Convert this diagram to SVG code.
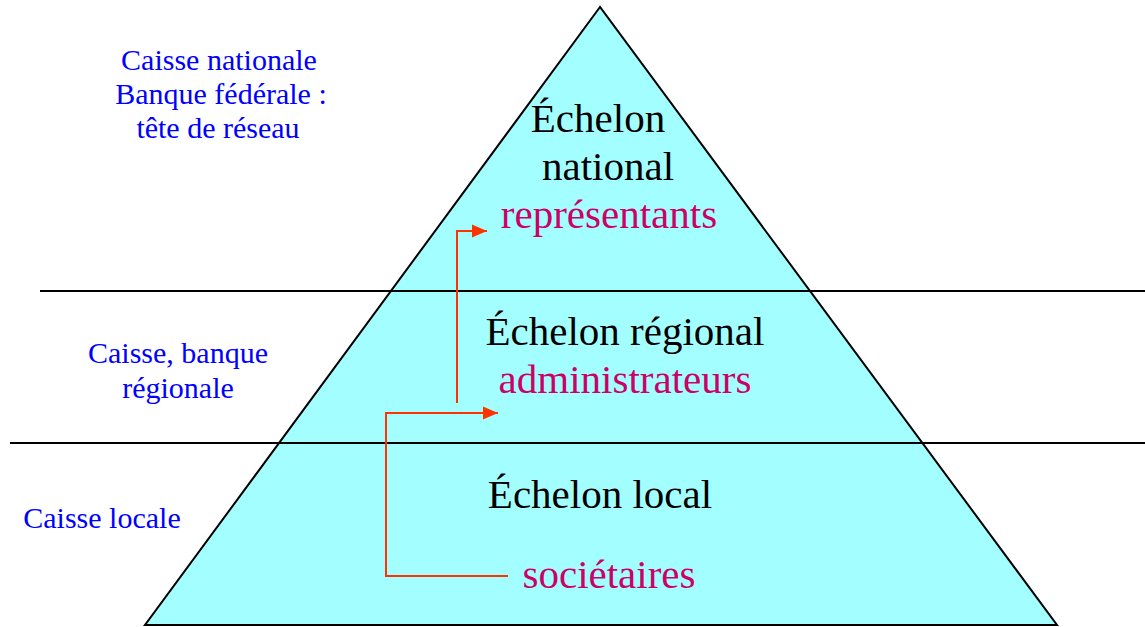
<svg xmlns="http://www.w3.org/2000/svg" width="1145" height="627" viewBox="0 0 1145 627">
<defs>
<style>
.main{font-family:"Liberation Serif","Times New Roman",serif;font-size:41px;fill:#000;text-anchor:middle}
.role{font-family:"Liberation Serif","Times New Roman",serif;font-size:41px;fill:#cc0066;text-anchor:middle}
.side{font-family:"Liberation Serif","Times New Roman",serif;font-size:30px;fill:#0000ff;text-anchor:middle}
.sep{stroke:#000;stroke-width:2;fill:none}
.conn{stroke:#ff3300;stroke-width:2;fill:none}
</style>
<marker id="arr" viewBox="0 0 10 10" refX="10" refY="5" markerWidth="7.5" markerHeight="7.5" markerUnits="strokeWidth" orient="auto">
<path d="M0,0.7 L10,5 L0,9.3 z" fill="#ff3300"/>
</marker>
</defs>
<rect width="1145" height="627" fill="#fff"/>
<g id="pyramid">
<polygon points="600,7 145,625 1057,625" fill="#a3ffff" stroke="#000" stroke-width="2"/>
</g>
<g id="separators">
<line class="sep" x1="40" y1="291" x2="1145" y2="291"/>
<line class="sep" x1="10" y1="443" x2="1145" y2="443"/>
</g>
<g id="national">
<text class="main" x="598" y="132">Échelon</text>
<text class="main" x="608" y="180">national</text>
<text class="role" x="609" y="228">représentants</text>
</g>
<g id="regional">
<text class="main" x="625" y="345">Échelon régional</text>
<text class="role" x="625" y="393">administrateurs</text>
</g>
<g id="local">
<text class="main" x="600" y="508">Échelon local</text>
<text class="role" x="609" y="588">sociétaires</text>
</g>
<g id="labels">
<text class="side" x="219" y="70">Caisse nationale</text>
<text class="side" x="221" y="104">Banque fédérale :</text>
<text class="side" x="218" y="138">tête de réseau</text>
<text class="side" x="178" y="363">Caisse, banque</text>
<text class="side" x="178" y="398">régionale</text>
<text class="side" x="102" y="528">Caisse locale</text>
</g>
<g id="connectors">
<polyline class="conn" points="457,403 457,231 487,231" marker-end="url(#arr)"/>
<polyline class="conn" points="508,576 386,576 386,413 498,413" marker-end="url(#arr)"/>
</g>
</svg>
